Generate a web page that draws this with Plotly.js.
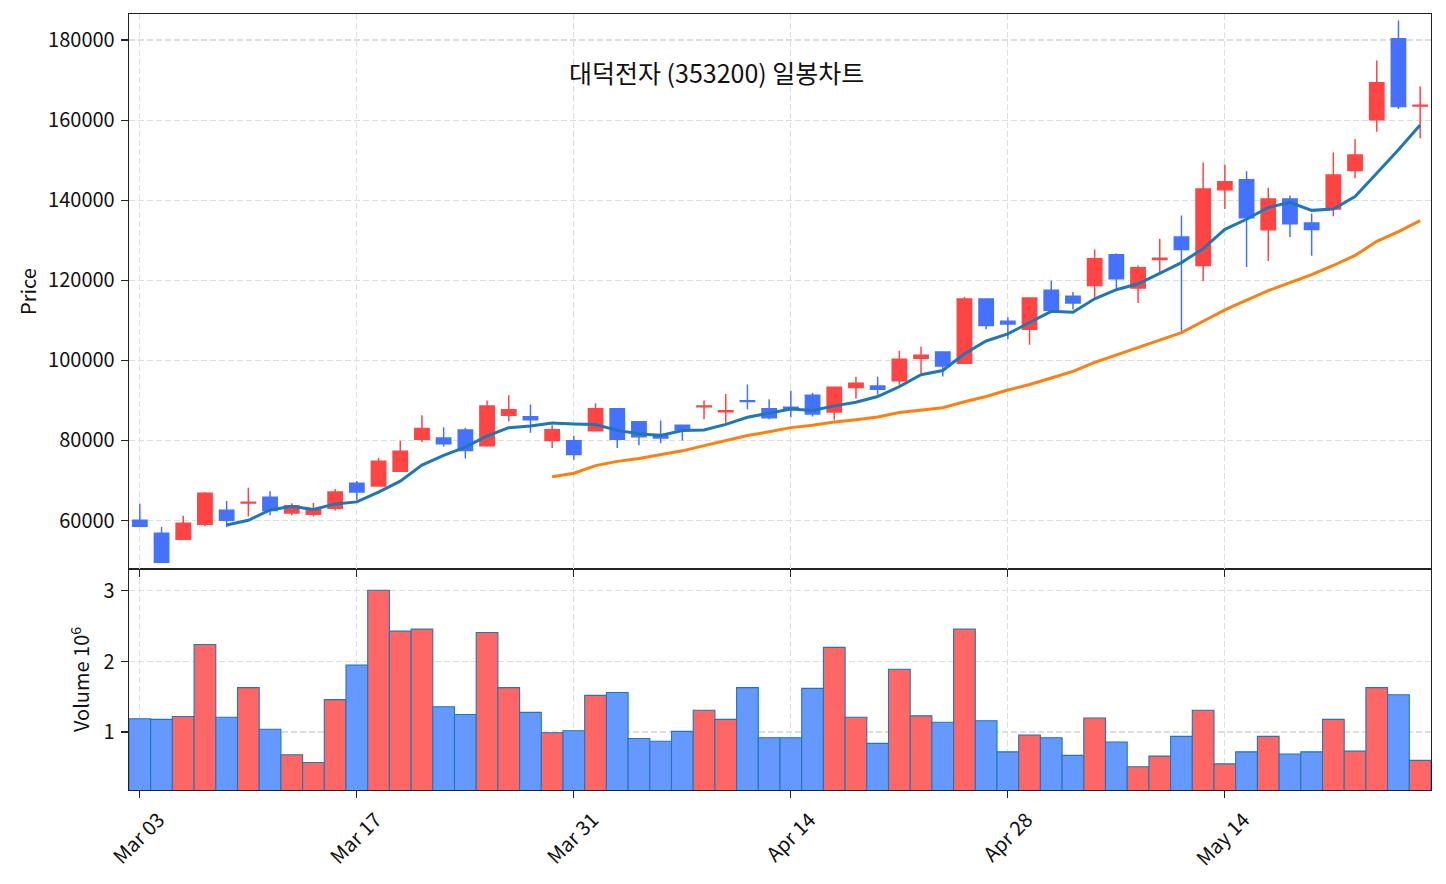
<!DOCTYPE html>
<html>
<head>
<meta charset="utf-8">
<script src="https://cdn.plot.ly/plotly-3.0.1.min.js"></script>
<style>
  html, body { margin: 0; padding: 0; background: #ffffff; }
  #chart { width: 1446px; height: 884px; }
</style>
</head>
<body>
<div id="chart"></div>
<script>
// ---- data ----
const dates = [
  "2025-03-03","2025-03-04","2025-03-05","2025-03-06","2025-03-07",
  "2025-03-10","2025-03-11","2025-03-12","2025-03-13","2025-03-14",
  "2025-03-17","2025-03-18","2025-03-19","2025-03-20","2025-03-21",
  "2025-03-24","2025-03-25","2025-03-26","2025-03-27","2025-03-28",
  "2025-03-31","2025-04-01","2025-04-02","2025-04-03","2025-04-04",
  "2025-04-07","2025-04-08","2025-04-09","2025-04-10","2025-04-11",
  "2025-04-14","2025-04-15","2025-04-16","2025-04-17","2025-04-18",
  "2025-04-21","2025-04-22","2025-04-23","2025-04-24","2025-04-25",
  "2025-04-28","2025-04-29","2025-04-30","2025-05-01","2025-05-02",
  "2025-05-07","2025-05-08","2025-05-09","2025-05-12","2025-05-13",
  "2025-05-14","2025-05-15","2025-05-16","2025-05-19","2025-05-20",
  "2025-05-21","2025-05-22","2025-05-23","2025-05-26","2025-05-27"
];
const openPrices = [
  60100, 56800, 55300, 59100, 62600, 64400, 65800, 61900, 61600, 63100,
  69300, 68600, 72300, 80300, 80600, 82600, 78700, 86300, 85900, 80000,
  79900, 82400, 87900, 84700, 81500, 83800, 88400, 87200, 89900, 87900,
  88300, 91300, 87100, 93200, 93600, 94900, 100500, 102100, 99300, 115300,
  109800, 107800, 117500, 116000, 118700, 126400, 118100, 125200, 130800, 123700,
  142600, 145100, 132600, 140300, 134300, 137800, 147400, 160100, 180300, 163500
];
const highPrices = [
  64200, 58400, 61200, 67100, 64900, 68200, 67300, 64300, 64400, 67900,
  69900, 75600, 79900, 86300, 83300, 83200, 90000, 91300, 89000, 83800,
  81200, 89300, 88000, 84700, 85000, 83900, 90000, 91600, 94000, 90300,
  92400, 91900, 93400, 95900, 95900, 102400, 103400, 102100, 115900, 115400,
  110800, 115600, 119900, 117100, 127700, 126700, 123700, 130400, 136200, 149400,
  148900, 147200, 143100, 141200, 136700, 151900, 155200, 174900, 184900, 168400
];
const lowPrices = [
  58500, 49500, 55200, 58600, 58300, 61000, 61300, 61300, 61000, 62500,
  65000, 68500, 72300, 79600, 78500, 75500, 78400, 84800, 81900, 78100,
  75100, 82300, 78100, 78800, 79300, 80000, 85300, 84400, 87800, 85300,
  85800, 86000, 85200, 90500, 91400, 93900, 96800, 96000, 99300, 107800,
  105300, 103900, 112400, 112700, 115700, 117900, 114300, 122100, 107300, 119800,
  137800, 123300, 124800, 130800, 126100, 136000, 145500, 157100, 162800, 155500
];
const closePrices = [
  58600, 49600, 59300, 66800, 60100, 64600, 62500, 63700, 62900, 67100,
  67100, 74800, 77300, 83000, 79200, 77500, 88600, 87700, 85200, 82700,
  76500, 87900, 80300, 80900, 80600, 82600, 88600, 87400, 89700, 85700,
  87900, 86600, 93300, 94300, 92800, 100300, 101300, 98600, 115300, 108700,
  109100, 115600, 112500, 114300, 125400, 120400, 123100, 125500, 127700, 142800,
  144600, 135600, 140300, 134100, 132700, 146300, 151300, 169300, 163400, 163700
];
const volumes = [
  1190000, 1180000, 1220000, 2240000, 1210000, 1630000, 1040000, 680000, 570000, 1460000,
  1950000, 3010000, 2430000, 2460000, 1360000, 1250000, 2410000, 1630000, 1280000, 990000,
  1020000, 1520000, 1560000, 910000, 870000, 1010000, 1310000, 1180000, 1630000, 920000,
  920000, 1620000, 2200000, 1210000, 840000, 1890000, 1230000, 1140000, 2460000, 1160000,
  720000, 960000, 920000, 670000, 1200000, 860000, 510000, 660000, 940000, 1310000,
  550000, 720000, 940000, 690000, 720000, 1180000, 730000, 1630000, 1530000, 600000
];
const tickDates = ["2025-03-03","2025-03-17","2025-03-31","2025-04-14","2025-04-28","2025-05-14"];
const tickLabels = ["Mar 03","Mar 17","Mar 31","Apr 14","Apr 28","May 14"];
const chartTitle = "대덕전자 (353200) 일봉차트";

// ---- derived series ----
function movingAverage(values, n) {
  return values.map((v, i) => {
    if (i < n - 1) return null;
    let s = 0;
    for (let k = i - n + 1; k <= i; k++) s += values[k];
    return s / n;
  });
}
const ma5 = movingAverage(closePrices, 5);
const ma20 = movingAverage(closePrices, 20);

const UP = '#ff4444', DOWN = '#4472ff';
const volColors = closePrices.map((c, i) => c >= openPrices[i] ? '#ff6666' : '#6699ff');
const volM = volumes.map(v => v / 1e6);

const FONT = '"Noto Sans CJK KR", "Noto Sans", sans-serif';
const GRID = '#dedede';

const traces = [
  {
    type: 'candlestick', x: dates, open: openPrices, high: highPrices,
    low: lowPrices, close: closePrices, xaxis: 'x2', yaxis: 'y',
    increasing: { line: { color: UP, width: 1.5 }, fillcolor: UP },
    decreasing: { line: { color: DOWN, width: 1.5 }, fillcolor: DOWN },
    whiskerwidth: 0, showlegend: false, hoverinfo: 'skip'
  },
  {
    type: 'scatter', mode: 'lines', x: dates, y: ma5, xaxis: 'x2', yaxis: 'y',
    line: { color: '#1f77b4', width: 3 }, showlegend: false, connectgaps: false
  },
  {
    type: 'scatter', mode: 'lines', x: dates, y: ma20, xaxis: 'x2', yaxis: 'y',
    line: { color: '#ff7f0e', width: 3 }, showlegend: false, connectgaps: false
  },
  {
    type: 'bar', x: dates, y: volM, xaxis: 'x', yaxis: 'y2',
    marker: { color: volColors, line: { color: '#1f77b4', width: 1.1 } },
    showlegend: false, hoverinfo: 'skip'
  }
];

const split = 221 / 776;
const axisCommon = {
  showline: true, linecolor: '#222', linewidth: 1.3, mirror: true,
  ticks: 'outside', ticklen: 7, tickwidth: 1.2, tickcolor: '#222',
  showgrid: true, gridcolor: GRID, gridwidth: 1.2, griddash: '6px,3px',
  zeroline: false, tickfont: { family: FONT, size: 20, color: '#111' }
};

const layout = {
  width: 1446, height: 884,
  margin: { l: 129, r: 15, t: 14, b: 94, pad: 0 },
  paper_bgcolor: '#ffffff', plot_bgcolor: '#ffffff',
  font: { family: FONT, size: 20, color: '#111' },
  showlegend: false, bargap: 0, boxgap: 0.34, boxgroupgap: 0,
  xaxis: Object.assign({}, axisCommon, {
    type: 'category', anchor: 'y2', domain: [0, 1],
    range: [-0.5, dates.length - 0.5],
    tickmode: 'array', tickvals: tickDates, ticktext: tickLabels,
    tickangle: -45, ticklabelshift: 19, ticklabelstandoff: 2,
    rangeslider: { visible: false }
  }),
  xaxis2: Object.assign({}, axisCommon, {
    type: 'category', anchor: 'y', matches: 'x', domain: [0, 1],
    range: [-0.5, dates.length - 0.5],
    tickmode: 'array', tickvals: tickDates, ticktext: tickLabels,
    showticklabels: false, rangeslider: { visible: false }
  }),
  yaxis: Object.assign({}, axisCommon, {
    domain: [split, 1], range: [47900, 186500],
    tickmode: 'linear', tick0: 0, dtick: 20000, tickformat: 'd',
    ticklabelstandoff: 2,
    title: { text: 'Price', font: { family: FONT, size: 20, color: '#111' }, standoff: 6 }
  }),
  yaxis2: Object.assign({}, axisCommon, {
    domain: [0, split], range: [0.18, 3.31],
    tickmode: 'linear', tick0: 0, dtick: 1,
    ticklabelstandoff: 2,
    title: { text: 'Volume 10<sup>6</sup>', font: { family: FONT, size: 20, color: '#111' }, standoff: 8 }
  }),
  annotations: [
    {
      text: chartTitle, xref: 'paper', yref: 'paper',
      x: (716 - 129) / 1302, y: 1 - 58 / 776, xanchor: 'center', yanchor: 'middle',
      showarrow: false, font: { family: FONT, size: 25, color: '#111' }
    }
  ]
};

Plotly.newPlot('chart', traces, layout, { staticPlot: true, displayModeBar: false });
</script>
</body>
</html>
